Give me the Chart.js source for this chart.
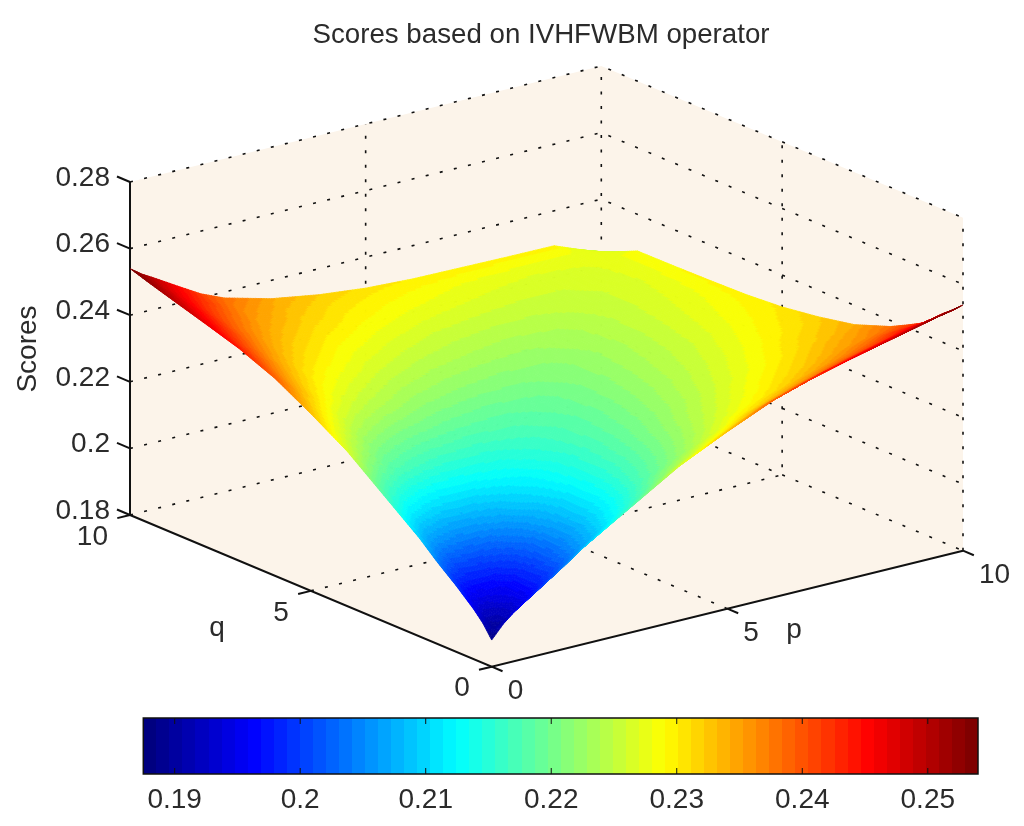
<!DOCTYPE html>
<html>
<head>
<meta charset="utf-8">
<title>Scores based on IVHFWBM operator</title>
<script src="https://cdn.jsdelivr.net/npm/chart.js@4"></script>
<style>
  html, body { margin: 0; background: #fff; }
  #wrap { position: relative; width: 1024px; height: 826px; overflow: hidden; }
  canvas { position: absolute; left: 0; display: block; }
  #surfaceChart { top: 0; }
  #barChart { top: 700px; }
</style>
</head>
<body>
<div id="wrap">
  <canvas id="surfaceChart" width="1024" height="826"></canvas>
  <canvas id="barChart" width="1024" height="126"></canvas>
</div>
<script>
'use strict';

const TITLE = 'Scores based on IVHFWBM operator';
const FONT = '"Liberation Sans", Arial, sans-serif';
const TEXT_COLOR = '#2b2b2b';

const pTicks = [0, 5, 10];
const qTicks = [0, 5, 10];
const zTicks = [0.18, 0.2, 0.22, 0.24, 0.26, 0.28];
const barTicks = [0.19, 0.2, 0.21, 0.22, 0.23, 0.24, 0.25];
const colorMin = 0.1875;
const colorMax = 0.254;

// same knots on both axes, tighter near 0 where the surface climbs fast
const gridP = [0, 0.25, 0.5, 1, 1.5, 2, 3, 4, 5, 6, 7, 8, 9, 9.5, 10];
const gridQ = [0, 0.25, 0.5, 1, 1.5, 2, 3, 4, 5, 6, 7, 8, 9, 9.5, 10];

// scores[q index][p index]
const scores = [
  [.188, .192, .195, .2, .2045, .2095, .218, .2265, .2332, .2393, .2438, .2472, .2505, .2522, .2538],
  [.192, .1895, .1915, .1961, .2009, .206, .215, .2237, .2304, .2367, .2411, .2448, .2482, .2499, .2512],
  [.195, .1915, .1915, .195, .1992, .2038, .2128, .2212, .2279, .2339, .2386, .2425, .246, .2475, .2492],
  [.2, .1961, .195, .1955, .1988, .2027, .2105, .2179, .2236, .2295, .234, .238, .2414, .2435, .244],
  [.2045, .2009, .1992, .1988, .2, .2033, .2099, .2165, .2216, .2265, .2304, .2342, .2379, .2398, .241],
  [.2095, .206, .2038, .2027, .2033, .205, .2101, .2157, .2204, .2248, .2284, .2318, .235, .2364, .2382],
  [.218, .215, .2128, .2105, .2099, .2101, .2122, .2154, .2191, .2225, .2258, .2287, .2317, .233, .2342],
  [.2265, .2237, .2212, .2179, .2165, .2157, .2154, .2165, .2186, .2215, .2242, .2269, .2296, .2307, .232],
  [.2332, .2304, .2279, .2236, .2216, .2204, .2191, .2186, .2192, .221, .2235, .2257, .2282, .2294, .2304],
  [.2393, .2367, .2339, .2295, .2265, .2248, .2225, .2215, .221, .2214, .223, .2252, .2274, .2284, .2296],
  [.2438, .2411, .2386, .234, .2304, .2284, .2258, .2242, .2235, .223, .2235, .225, .2268, .2277, .2293],
  [.2472, .2448, .2425, .238, .2342, .2318, .2287, .2269, .2257, .2252, .225, .2253, .2264, .2273, .2291],
  [.2505, .2482, .246, .2414, .2379, .235, .2317, .2296, .2282, .2274, .2268, .2264, .2268, .2274, .229],
  [.2522, .2499, .2475, .2435, .2398, .2364, .233, .2307, .2294, .2284, .2277, .2273, .2274, .2278, .2265],
  [.254, .2515, .2495, .2453, .2412, .2382, .2345, .2322, .2307, .23, .2298, .2296, .2295, .2267, .2241]
];

const zMin = zTicks[0];
const zMax = zTicks[zTicks.length - 1];

// oblique view of the box, result is in the units of the x/y scales
function project(p, q, z) {
  return {
    x: 491.7 + 47.13 * p - 36.17 * q,
    y: 666.7 - 11.6 * p - 15.17 * q - (z - zMin) * 3330
  };
}

function jet(value) {
  let t = (value - colorMin) / (colorMax - colorMin);
  t = Math.min(63, Math.max(0, Math.floor(t * 64))) / 63;
  const ramp = (c) => Math.round(255 * Math.min(1, Math.max(0, 1.5 - Math.abs(4 * t - c))));
  return `rgb(${ramp(3)},${ramp(2)},${ramp(1)})`;
}

function line(points, extra) {
  return Object.assign({
    data: points,
    showLine: true,
    pointRadius: 0,
    borderColor: '#111',
    borderWidth: 1,
    tension: 0
  }, extra);
}
const dotted = (points) => line(points, { borderWidth: 1.6, borderDash: [3, 11.5] });
const solid = (points) => line(points, { borderWidth: 2 });

function buildDatasets() {
  const sets = [];
  const P = 10, Q = 10;
  // the three back faces
  sets.push(line([
    project(0, 0, zMin), project(P, 0, zMin), project(P, 0, zMax), project(P, Q, zMax),
    project(0, Q, zMax), project(0, Q, zMin), project(0, 0, zMin)
  ], { fill: 'shape', backgroundColor: '#fcf4ea', borderWidth: 0, order: 10 }));

  zTicks.forEach((z) => {
    sets.push(dotted([project(0, Q, z), project(P, Q, z), project(P, 0, z)]));
  });
  sets.push(dotted([project(P, Q, zMin), project(P, Q, zMax)]));
  sets.push(dotted([project(P, 0, zMin), project(P, 0, zMax)]));
  pTicks.slice(1, -1).forEach((p) => {
    sets.push(dotted([project(p, 0, zMin), project(p, Q, zMin), project(p, Q, zMax)]));
  });
  qTicks.slice(1, -1).forEach((q) => {
    sets.push(dotted([project(0, q, zMin), project(P, q, zMin), project(P, q, zMax)]));
  });

  sets.push(solid([project(0, Q, zMax), project(0, Q, zMin), project(0, 0, zMin), project(P, 0, zMin)]));
  zTicks.forEach((z) => sets.push(solid([project(0, Q, z), project(0, Q + 0.36, z)])));
  pTicks.forEach((p) => sets.push(solid([project(p, 0, zMin), project(p, -0.3, zMin)])));
  qTicks.forEach((q) => sets.push(solid([project(0, q, zMin), project(-0.27, q, zMin)])));
  return sets;
}

// shaded like MATLAB's surf: back cells first, colours in 64 steps
const surfacePlugin = {
  id: 'surface',
  afterDatasetsDraw(chart) {
    const { ctx, scales } = chart;
    const toPixel = (p, q, z) => {
      const v = project(p, q, z);
      return [scales.x.getPixelForValue(v.x), scales.y.getPixelForValue(v.y)];
    };
    ctx.save();
    ctx.lineWidth = 0.8;
    ctx.lineJoin = 'round';
    for (let j = gridQ.length - 2; j >= 0; j--) {
      for (let i = gridP.length - 2; i >= 0; i--) {
        const p0 = gridP[i], p1 = gridP[i + 1], q0 = gridQ[j], q1 = gridQ[j + 1];
        const nP = Math.ceil((p1 - p0) * 18), nQ = Math.ceil((q1 - q0) * 18);
        const at = (u, v) => (1 - u) * (1 - v) * scores[j][i] + u * (1 - v) * scores[j][i + 1] +
          (1 - u) * v * scores[j + 1][i] + u * v * scores[j + 1][i + 1];
        for (let b = nQ - 1; b >= 0; b--) {
          for (let a = nP - 1; a >= 0; a--) {
            const u0 = a / nP, u1 = (a + 1) / nP, v0 = b / nQ, v1 = (b + 1) / nQ;
            const pa = p0 + (p1 - p0) * u0, pb = p0 + (p1 - p0) * u1;
            const qa = q0 + (q1 - q0) * v0, qb = q0 + (q1 - q0) * v1;
            const c1 = toPixel(pa, qa, at(u0, v0)), c2 = toPixel(pb, qa, at(u1, v0));
            const c3 = toPixel(pb, qb, at(u1, v1)), c4 = toPixel(pa, qb, at(u0, v1));
            const color = jet((at(u0, v0) + at(u1, v1) + at(u1, v0) + at(u0, v1)) / 4);
            ctx.fillStyle = color;
            ctx.strokeStyle = color;
            ctx.beginPath();
            ctx.moveTo(c1[0], c1[1]);
            ctx.lineTo(c2[0], c2[1]);
            ctx.lineTo(c3[0], c3[1]);
            ctx.lineTo(c4[0], c4[1]);
            ctx.closePath();
            ctx.fill();
            ctx.stroke();
          }
        }
      }
    }
    ctx.restore();
  },
  afterDraw(chart) {
    const { ctx, scales } = chart;
    const at = (p, q, z) => {
      const v = project(p, q, z);
      return [scales.x.getPixelForValue(v.x), scales.y.getPixelForValue(v.y)];
    };
    ctx.save();
    ctx.fillStyle = TEXT_COLOR;
    ctx.textBaseline = 'middle';
    ctx.font = `27.7px ${FONT}`;
    ctx.textAlign = 'center';
    ctx.fillText(TITLE, 541, 35);

    ctx.font = `28px ${FONT}`;
    ctx.textAlign = 'right';
    zTicks.forEach((z) => {
      const c = at(0, 10, z);
      ctx.fillText(String(z), c[0] - 20, c[1] - 4);
    });
    qTicks.forEach((q) => {
      const c = at(0, q, zMin);
      ctx.fillText(String(q), c[0] - 22, c[1] + 22);
    });
    ctx.textAlign = 'left';
    pTicks.forEach((p) => {
      const c = at(p, 0, zMin);
      ctx.fillText(String(p), c[0] + 16, c[1] + 25);
    });
    ctx.textAlign = 'center';
    ctx.fillText('q', 217, 628);
    ctx.fillText('p', 794, 630);
    ctx.translate(28, 349);
    ctx.rotate(-Math.PI / 2);
    ctx.fillText('Scores', 0, 0);
    ctx.restore();
  }
};

new Chart(document.getElementById('surfaceChart').getContext('2d'), {
  type: 'scatter',
  data: { datasets: buildDatasets() },
  options: {
    responsive: false,
    animation: false,
    layout: { padding: 0 },
    plugins: { legend: { display: false }, tooltip: { enabled: false } },
    scales: {
      x: { type: 'linear', display: false, min: 0, max: 1024 },
      y: { type: 'linear', display: false, min: 0, max: 826, reverse: true }
    }
  },
  plugins: [surfacePlugin]
});

function barGradient(context) {
  const { chart } = context;
  if (!chart.chartArea) return '#000';
  const { left, right } = chart.chartArea;
  const g = chart.ctx.createLinearGradient(left, 0, right, 0);
  for (let i = 0; i < 64; i++) {
    const c = jet(colorMin + (i + 0.5) / 64 * (colorMax - colorMin));
    g.addColorStop(i / 64, c);
    g.addColorStop((i + 1) / 64, c);
  }
  return g;
}

const barFrame = {
  id: 'barFrame',
  afterDatasetsDraw(chart) {
    const { ctx, chartArea: a, scales } = chart;
    ctx.save();
    ctx.strokeStyle = '#111';
    ctx.lineWidth = 1.5;
    ctx.strokeRect(a.left, a.top, a.right - a.left, a.bottom - a.top);
    ctx.lineWidth = 1;
    barTicks.forEach((t) => {
      const x = scales.x.getPixelForValue(t);
      ctx.beginPath();
      ctx.moveTo(x, a.top);
      ctx.lineTo(x, a.top + 6);
      ctx.moveTo(x, a.bottom);
      ctx.lineTo(x, a.bottom - 6);
      ctx.stroke();
    });
    ctx.restore();
  }
};

new Chart(document.getElementById('barChart').getContext('2d'), {
  type: 'bar',
  data: {
    labels: ['Scores'],
    datasets: [{
      data: [[colorMin, colorMax]],
      backgroundColor: barGradient,
      barPercentage: 1,
      categoryPercentage: 1,
      borderWidth: 0
    }]
  },
  options: {
    indexAxis: 'y',
    responsive: false,
    animation: false,
    layout: { padding: { left: 143.3, right: 46, top: 18, bottom: 0 } },
    plugins: { legend: { display: false }, tooltip: { enabled: false } },
    scales: {
      y: { display: false },
      x: {
        type: 'linear',
        min: colorMin,
        max: colorMax,
        border: { display: false },
        grid: { display: false },
        afterBuildTicks: (axis) => { axis.ticks = barTicks.map((value) => ({ value })); },
        afterFit: (axis) => { axis.height = 52; },
        ticks: {
          autoSkip: false,
          maxRotation: 0,
          padding: 1,
          color: TEXT_COLOR,
          font: { family: FONT, size: 28 },
          callback: (v) => String(v)
        }
      }
    }
  },
  plugins: [barFrame]
});
</script>
</body>
</html>
